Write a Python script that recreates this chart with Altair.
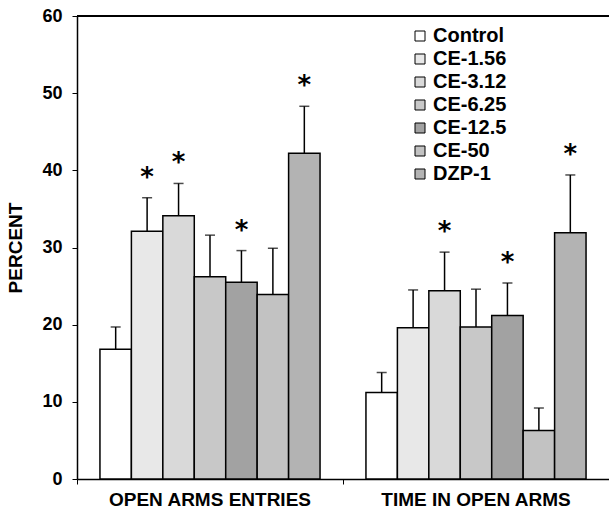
import altair as alt
import pandas as pd

groups = ["OPEN ARMS ENTRIES", "TIME IN OPEN ARMS"]
series = ["Control", "CE-1.56", "CE-3.12", "CE-6.25", "CE-12.5", "CE-50", "DZP-1"]

entries_mean = [16.8, 32.1, 34.1, 26.2, 25.5, 23.9, 42.2]
entries_sem = [2.9, 4.35, 4.2, 5.4, 4.1, 6.0, 6.1]
entries_sig = [False, True, True, False, True, False, True]

time_mean = [11.2, 19.6, 24.4, 19.7, 21.2, 6.3, 31.9]
time_sem = [2.6, 4.9, 5.0, 4.9, 4.2, 2.9, 7.5]
time_sig = [False, False, True, False, True, False, True]

fills = ["#ffffff", "#e8e8e8", "#d9d9d9", "#c8c8c8", "#a2a2a2", "#c2c2c2", "#b3b3b3"]

rows = []
for g, means, sems, sigs in [
    (groups[0], entries_mean, entries_sem, entries_sig),
    (groups[1], time_mean, time_sem, time_sig),
]:
    for s, m, e, sig in zip(series, means, sems, sigs):
        rows.append({"group": g, "series": s, "mean": m, "upper": m + e,
                     "star": "*" if sig else ""})
df = pd.DataFrame(rows)

FONT = "Liberation Sans"

x_enc = alt.X(
    "group:N", sort=groups,
    scale=alt.Scale(domain=groups, paddingInner=0, paddingOuter=0),
    axis=alt.Axis(title=None, bandPosition=0, tickSize=5, tickColor="black",
                  domainColor="black", domainWidth=1.5, labelAngle=0,
                  labelFontSize=19, labelFontWeight="bold", labelColor="black",
                  labelFont=FONT, labelPadding=6, labelLimit=400),
)
xo_enc = alt.XOffset(
    "series:N", sort=series,
    scale=alt.Scale(domain=series, paddingInner=0, paddingOuter=0.73),
)
y_scale = alt.Scale(domain=[0, 60], nice=False)

base = alt.Chart(df)

bars = base.mark_bar(stroke="black", strokeWidth=1.5).encode(
    x=x_enc,
    xOffset=xo_enc,
    y=alt.Y("mean:Q", scale=y_scale,
            axis=alt.Axis(title="PERCENT", values=[0, 10, 20, 30, 40, 50, 60],
                          grid=False, tickSize=5, tickColor="black",
                          domainColor="black", domainWidth=1.5,
                          labelFontSize=18, labelFontWeight="bold",
                          labelColor="black", labelFont=FONT, labelPadding=10,
                          titleFontSize=19, titleFontWeight="bold",
                          titleColor="black", titleFont=FONT,
                          titleX=-52, titleBaseline="bottom", titleAlign="center")),
    fill=alt.Fill("series:N", sort=series,
                  scale=alt.Scale(domain=series, range=fills),
                  legend=alt.Legend(title=None, orient="none", legendX=333, legendY=10,
                                    symbolType="square", symbolSize=100,
                                    symbolStrokeColor="black", symbolStrokeWidth=1,
                                    labelFontSize=20, labelFontWeight="bold",
                                    labelFont=FONT, labelColor="black",
                                    labelOffset=3, rowPadding=3, padding=0)),
)

err = base.mark_rule(color="black", strokeWidth=1.5).encode(
    x=x_enc, xOffset=xo_enc, y=alt.Y("mean:Q", scale=y_scale), y2="upper:Q"
)

caps = base.mark_tick(color="black", thickness=1.5, size=10).encode(
    x=x_enc, xOffset=xo_enc, y=alt.Y("upper:Q", scale=y_scale)
)

stars = base.mark_text(font="DejaVu Sans", fontSize=26, fontWeight="bold", color="black",
                       baseline="alphabetic", dy=-12).encode(
    x=x_enc, xOffset=xo_enc, y=alt.Y("upper:Q", scale=y_scale), text="star:N"
)

top = base.mark_rule(color="black", strokeWidth=1.5).encode(y=alt.datum(60))

chart = alt.layer(bars, err, caps, stars, top).properties(
    width=532, height=463,
    padding={"left": 77, "top": 16, "right": 0, "bottom": 39},
    autosize=alt.AutoSizeParams(type="none"),
).configure_view(strokeWidth=0).configure(font=FONT, background="white")

chart.save("out.html", embed_options={"renderer": "svg", "actions": False})
